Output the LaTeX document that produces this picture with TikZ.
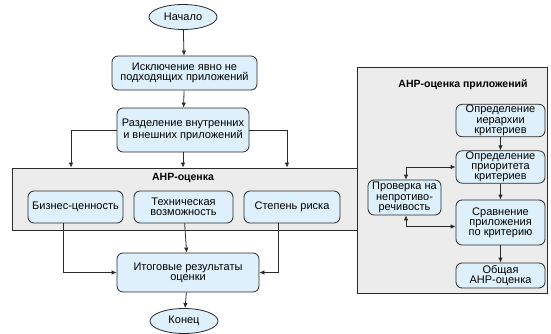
\documentclass[tikz,border=0pt]{standalone}
\usepackage{fontspec}
\setmainfont{Liberation Sans}
\usetikzlibrary{arrows.meta, positioning, shapes.geometric}
\definecolor{boxfill}{HTML}{DDF0FB}
\definecolor{panelfill}{HTML}{ECECEC}
\definecolor{edge}{HTML}{2A2A2A}
\tikzset{
  >={Latex[length=5pt,width=4.5pt]},
  font=\fontsize{11}{10.2}\selectfont,
  box/.style={
    draw=edge, fill=boxfill, line width=0.8pt,
    rounded corners=6pt, align=center, inner sep=1pt
  },
  term/.style={
    ellipse, draw=edge, fill=boxfill, line width=0.8pt,
    inner sep=0pt, minimum width=68pt, minimum height=25pt
  },
  panel/.style={
    draw=edge, fill=panelfill, line width=0.8pt, inner sep=0pt
  },
  arr/.style={->, line width=0.8pt, draw=edge},
  ttl/.style={font=\fontsize{10.5}{10}\selectfont\bfseries}
}

\begin{document}
\begin{tikzpicture}[x=1pt,y=-1pt]
  \useasboundingbox (0,0) rectangle (551,334);
  % main column
  \node[term] (start) at (183,17) {Начало};
  \node[box,minimum width=145pt,minimum height=34pt] (excl) at (184.5,73)
    {Исключение явно не\\подходящих приложений};
  \node[box,minimum width=132pt,minimum height=44pt] (split) at (183,130)
    {Разделение внутренних\\и внешних приложений};
  \node[panel,minimum width=388pt,minimum height=62pt] (ahp) at (206,199) {};
  \node[ttl] (ahpttl) at (183,178) {АНР-оценка};
  \node[box,minimum width=95pt,minimum height=32pt] (biz) at (75.5,207) {Бизнес-ценность};
  \node[box,minimum width=99pt,minimum height=32pt] (tech) at (183.5,207)
    {Техническая\\возможность};
  \node[box,minimum width=96pt,minimum height=32pt] (risk) at (292,207) {Степень риска};
  \node[box,minimum width=142pt,minimum height=39pt] (res) at (188,272.5)
    {Итоговые результаты\\оценки};
  \node[term] (stop) at (184,321) {Конец};

  % right panel
  \node[panel,minimum width=190pt,minimum height=226pt] (app) at (452,180) {};
  \node[ttl] (appttl) at (463,85) {АНР-оценка приложений};
  \node[box,minimum width=89pt,minimum height=31pt] (hier) at (500.5,120.5)
    {Определение\\иерархии\\критериев};
  \node[box,minimum width=89pt,minimum height=30pt] (prio) at (500.5,167)
    {Определение\\приоритета\\критериев};
  \node[box,minimum width=89pt,minimum height=45pt] (cmp) at (500.5,222.5)
    {Сравнение\\приложения\\по критерию};
  \node[box,minimum width=89pt,minimum height=25pt] (total) at (500.5,275.5)
    {Общая\\АНР-оценка};
  \node[box,minimum width=73pt,minimum height=35pt] (check) at (404.5,197.5)
    {Проверка на\\непротиво-\\речивость};

  % connectors
  \draw[arr] (start) -- (excl);
  \draw[arr] (excl) -- (split);
  \draw[arr] (split) -- (split |- ahp.north);
  \draw[arr] (split.west) -| (71,0 |- ahp.north);
  \draw[arr] (split.east) -| (287,0 |- ahp.north);
  \draw[arr] ([xshift=-12pt]biz.south) |- (res.west);
  \draw[arr] (tech) -- (res);
  \draw[arr] ([xshift=-14pt]risk.south) |- (res.east);
  \draw[arr] (res) -- (stop);
  \draw[arr] (hier) -- (prio);
  \draw[arr] (prio) -- (cmp);
  \draw[arr] (cmp) -- (total);
  \draw[arr,<->] ([xshift=1.5pt]check.north) |- (prio.west);
  \draw[arr,<->] ([xshift=1.5pt]check.south) |- ([yshift=-4pt]cmp.west);
\end{tikzpicture}
\end{document}
